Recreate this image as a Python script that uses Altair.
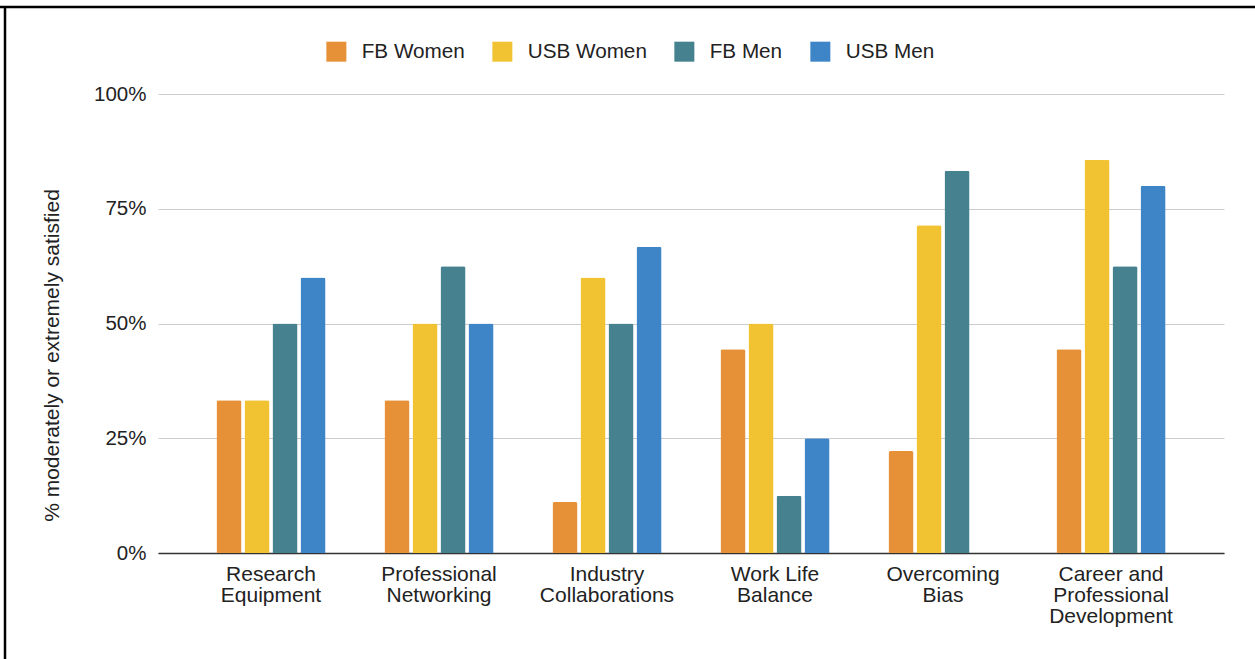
import altair as alt
import pandas as pd

CATEGORIES = [
    "Research\nEquipment",
    "Professional\nNetworking",
    "Industry\nCollaborations",
    "Work Life\nBalance",
    "Overcoming\nBias",
    "Career and\nProfessional\nDevelopment",
]
SERIES = ["FB Women", "USB Women", "FB Men", "USB Men"]
COLORS = ["#E69138", "#F1C232", "#45818E", "#3D85C6"]

FB_WOMEN = [33.3, 33.3, 11.1, 44.4, 22.2, 44.4]
USB_WOMEN = [33.3, 50.0, 60.0, 50.0, 71.4, 85.7]
FB_MEN = [50.0, 62.5, 50.0, 12.5, 83.3, 62.5]
USB_MEN = [60.0, 50.0, 66.7, 25.0, None, 80.0]

Y_TICKS = [0, 25, 50, 75, 100]

rows = []
for s, vals in zip(SERIES, [FB_WOMEN, USB_WOMEN, FB_MEN, USB_MEN]):
    for c, v in zip(CATEGORIES, vals):
        if v is not None:
            rows.append({"category": c, "series": s, "value": v})
df = pd.DataFrame(rows)

FONT = "Liberation Sans"
TXT = "#222222"

bars = alt.Chart(df).mark_bar(
    cornerRadiusTopLeft=2, cornerRadiusTopRight=2
).encode(
    x=alt.X(
        "category:N",
        sort=CATEGORIES,
        scale=alt.Scale(domain=CATEGORIES, paddingInner=0.351, paddingOuter=0.348),
        axis=alt.Axis(
            title=None,
            labelAngle=0,
            labelExpr="split(datum.label, '\\n')",
            labelFont=FONT,
            labelFontSize=21,
            labelColor=TXT,
            labelLineHeight=21,
            labelPadding=10,
            labelBaseline="top",
            ticks=False,
            domainColor="#333333",
            domainWidth=1.6,
            grid=False,
        ),
    ),
    xOffset=alt.XOffset(
        "series:N",
        sort=SERIES,
        scale=alt.Scale(domain=SERIES, paddingInner=0.107, paddingOuter=0),
    ),
    y=alt.Y(
        "value:Q",
        scale=alt.Scale(domain=[0, 100], nice=False),
        axis=alt.Axis(
            title="% moderately or extremely satisfied",
            titleFont=FONT,
            titleFontSize=21,
            titleFontWeight="normal",
            titleColor=TXT,
            titleAngle=-90,
            titleAlign="center",
            titleBaseline="alphabetic",
            titleX=-100,
            titleY=261,
            values=Y_TICKS,
            labelExpr="datum.value + '%'",
            labelFont=FONT,
            labelFontSize=20.5,
            labelColor=TXT,
            labelPadding=12,
            ticks=False,
            domain=False,
            grid=True,
            gridColor="#cccccc",
            gridWidth=1,
        ),
    ),
    color=alt.Color(
        "series:N",
        sort=SERIES,
        scale=alt.Scale(domain=SERIES, range=COLORS),
        legend=alt.Legend(
            title=None,
            orient="none",
            direction="horizontal",
            legendX=168,
            legendY=-53,
            symbolType="square",
            symbolSize=400,
            symbolStrokeWidth=0,
            symbolOpacity=1,
            labelFont=FONT,
            labelFontSize=20.7,
            labelColor=TXT,
            labelOffset=15,
            columnPadding=27,
        ),
    ),
)

frame_data = alt.Data(values=[{}])
top_line = alt.Chart(frame_data).mark_rule(color="#000000", strokeWidth=2.5).encode(
    x=alt.value(-158), x2=alt.value(1097), y=alt.value(-87)
)
left_line = alt.Chart(frame_data).mark_rule(color="#000000", strokeWidth=2.5).encode(
    x=alt.value(-153), y=alt.value(-87), y2=alt.value(565)
)

chart = alt.layer(bars, top_line, left_line).properties(
    width=1066,
    height=459,
    autosize=alt.AutoSizeParams(type="none"),
    padding={"left": 158, "top": 94, "right": 31, "bottom": 106},
    background="#ffffff",
).configure_view(stroke=None)

chart.save("out.html", embed_options={"renderer": "svg", "actions": False})
